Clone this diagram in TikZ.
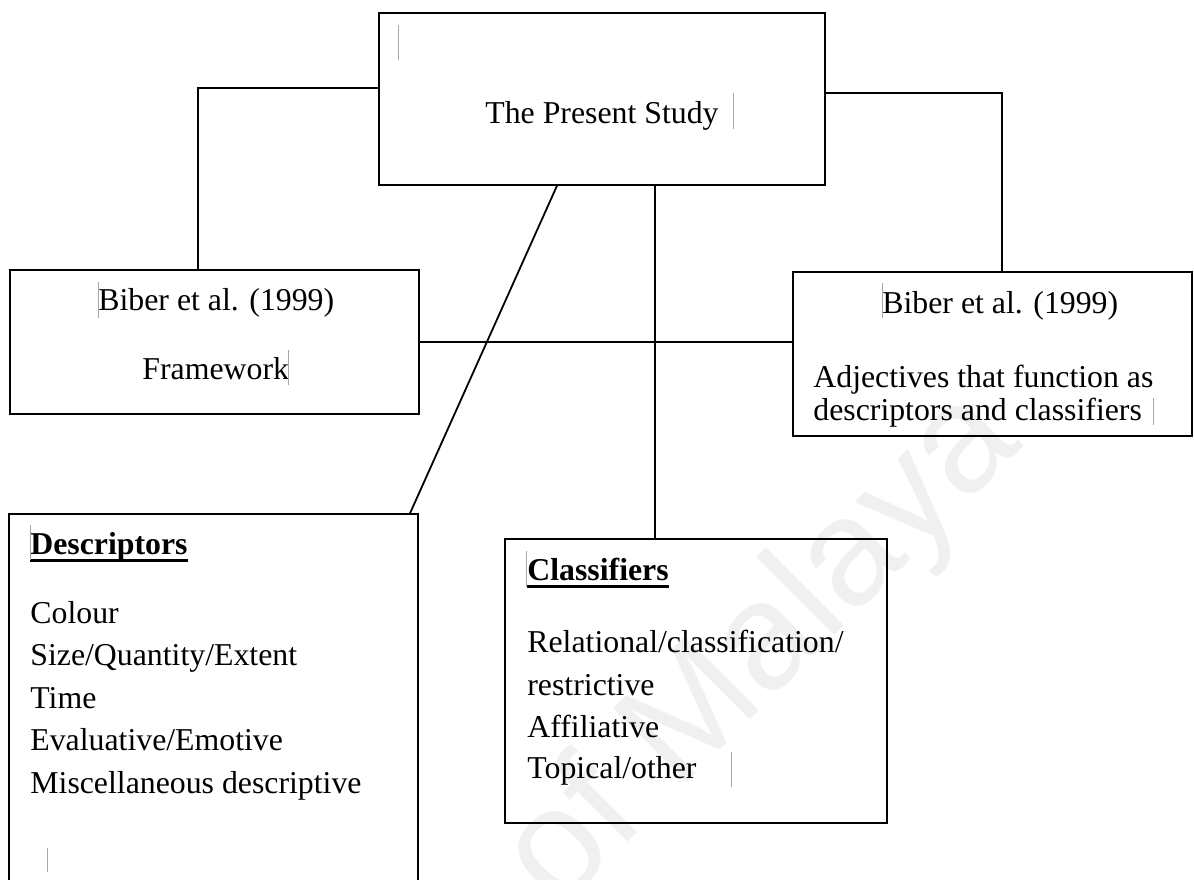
\documentclass[tikz,border=0pt]{standalone}
\usepackage{fontspec}
\setmainfont{Liberation Serif}
\newfontfamily\wmfont{Liberation Sans}
\usetikzlibrary{positioning}

\tikzset{
  box/.style={draw, line width=0.7pt, inner sep=0pt},
  link/.style={line width=0.9pt},
  txt/.style={inner sep=0pt, anchor=base west},
  caret/.style={draw=gray!70, line width=0.4pt},
}

\begin{document}
\begin{tikzpicture}[x=0.5pt, y=-0.5pt, font=\fontsize{15.9}{21}\selectfont]
  \useasboundingbox (0,0) rectangle (1194,879);
  \clip (0,0) rectangle (1194,879);
  % watermark
  \node[rotate=45, anchor=base east, inner sep=0pt, text=gray!12,
        font=\wmfont\fontsize{76}{84}\selectfont] (wm) at (1025,445) {University of Malaya};
  % boxes
  \node[box, minimum width=223pt, minimum height=86pt] (study) at (602,99) {};
  \node[box, minimum width=204.5pt, minimum height=72pt] (frame) at (214.5,342) {};
  \node[box, minimum width=199.5pt, minimum height=82pt] (adj) at (992.5,354) {};
  \node[box, minimum width=204.5pt, minimum height=213pt] (desc) at (213.5,727) {};
  \node[box, minimum width=191pt, minimum height=142pt] (clas) at (696,681) {};
  \coordinate (trunk) at (655,342);
  % connectors
  \draw[link] ([yshift=5.5pt]study.west) -| ([xshift=-8.25pt]frame.north);
  \draw[link] ([yshift=3pt]study.east) -| ([xshift=4.75pt]adj.north);
  \draw[link] (frame.east) -- (frame.east -| adj.west);
  \draw[link] (study.south -| trunk) -- (clas.north -| trunk);
  \draw[link] ([xshift=-22.5pt]study.south) -- ([xshift=98.25pt]desc.north);
  % texts
  \node[txt] (studytxt) at (485,123) {The Present Study};
  \node[txt] (frame1) at (98,310) {Biber et al. (1999)};
  \node[txt] (frame2) at (142,379) {Framework};
  \node[txt] (adj1) at (882,313) {Biber et al. (1999)};
  \node[txt] (adj2) at (813,387) {Adjectives that function as};
  \node[txt] (adj3) at (813,420) {descriptors and classifiers};
  \node[txt, font=\fontsize{15.9}{21}\selectfont\bfseries] (deschead) at (30,554) {Descriptors};
  \draw[line width=1.1pt] ([yshift=-3.2pt]deschead.base west) -- ([yshift=-3.2pt]deschead.base east);
  \foreach \y/\t [count=\i] in {623/Colour, 665.5/Size\slash Quantity\slash Extent, 708/Time,
      750.5/Evaluative\slash Emotive, 793/Miscellaneous descriptive} {
    \node[txt] (desc\i) at (30,\y) {\t};
  }
  \node[txt, font=\fontsize{15.9}{21}\selectfont\bfseries] (clashead) at (527,580) {Classifiers};
  \draw[line width=1.1pt] ([yshift=-3.2pt]clashead.base west) -- ([yshift=-3.2pt]clashead.base east);
  \foreach \y/\t [count=\i] in {652/Relational\slash classification\slash, 695/restrictive,
      737/Affiliative, 778/Topical\slash other} {
    \node[txt] (clas\i) at (527,\y) {\t};
  }
  % text cursor marks
  \draw[caret] (398,25) -- (398,60);
  \draw[caret] (733,93) -- (733,129);
  \draw[caret] (98,282) -- (98,318);
  \draw[caret] (288,350) -- (288,385);
  \draw[caret] (882,283) -- (882,318);
  \draw[caret] (1153,398) -- (1153,425);
  \draw[caret] (30,525) -- (30,560);
  \draw[caret] (47,848) -- (47,872);
  \draw[caret] (526,551) -- (526,587);
  \draw[caret] (731,752) -- (731,787);
\end{tikzpicture}
\end{document}
